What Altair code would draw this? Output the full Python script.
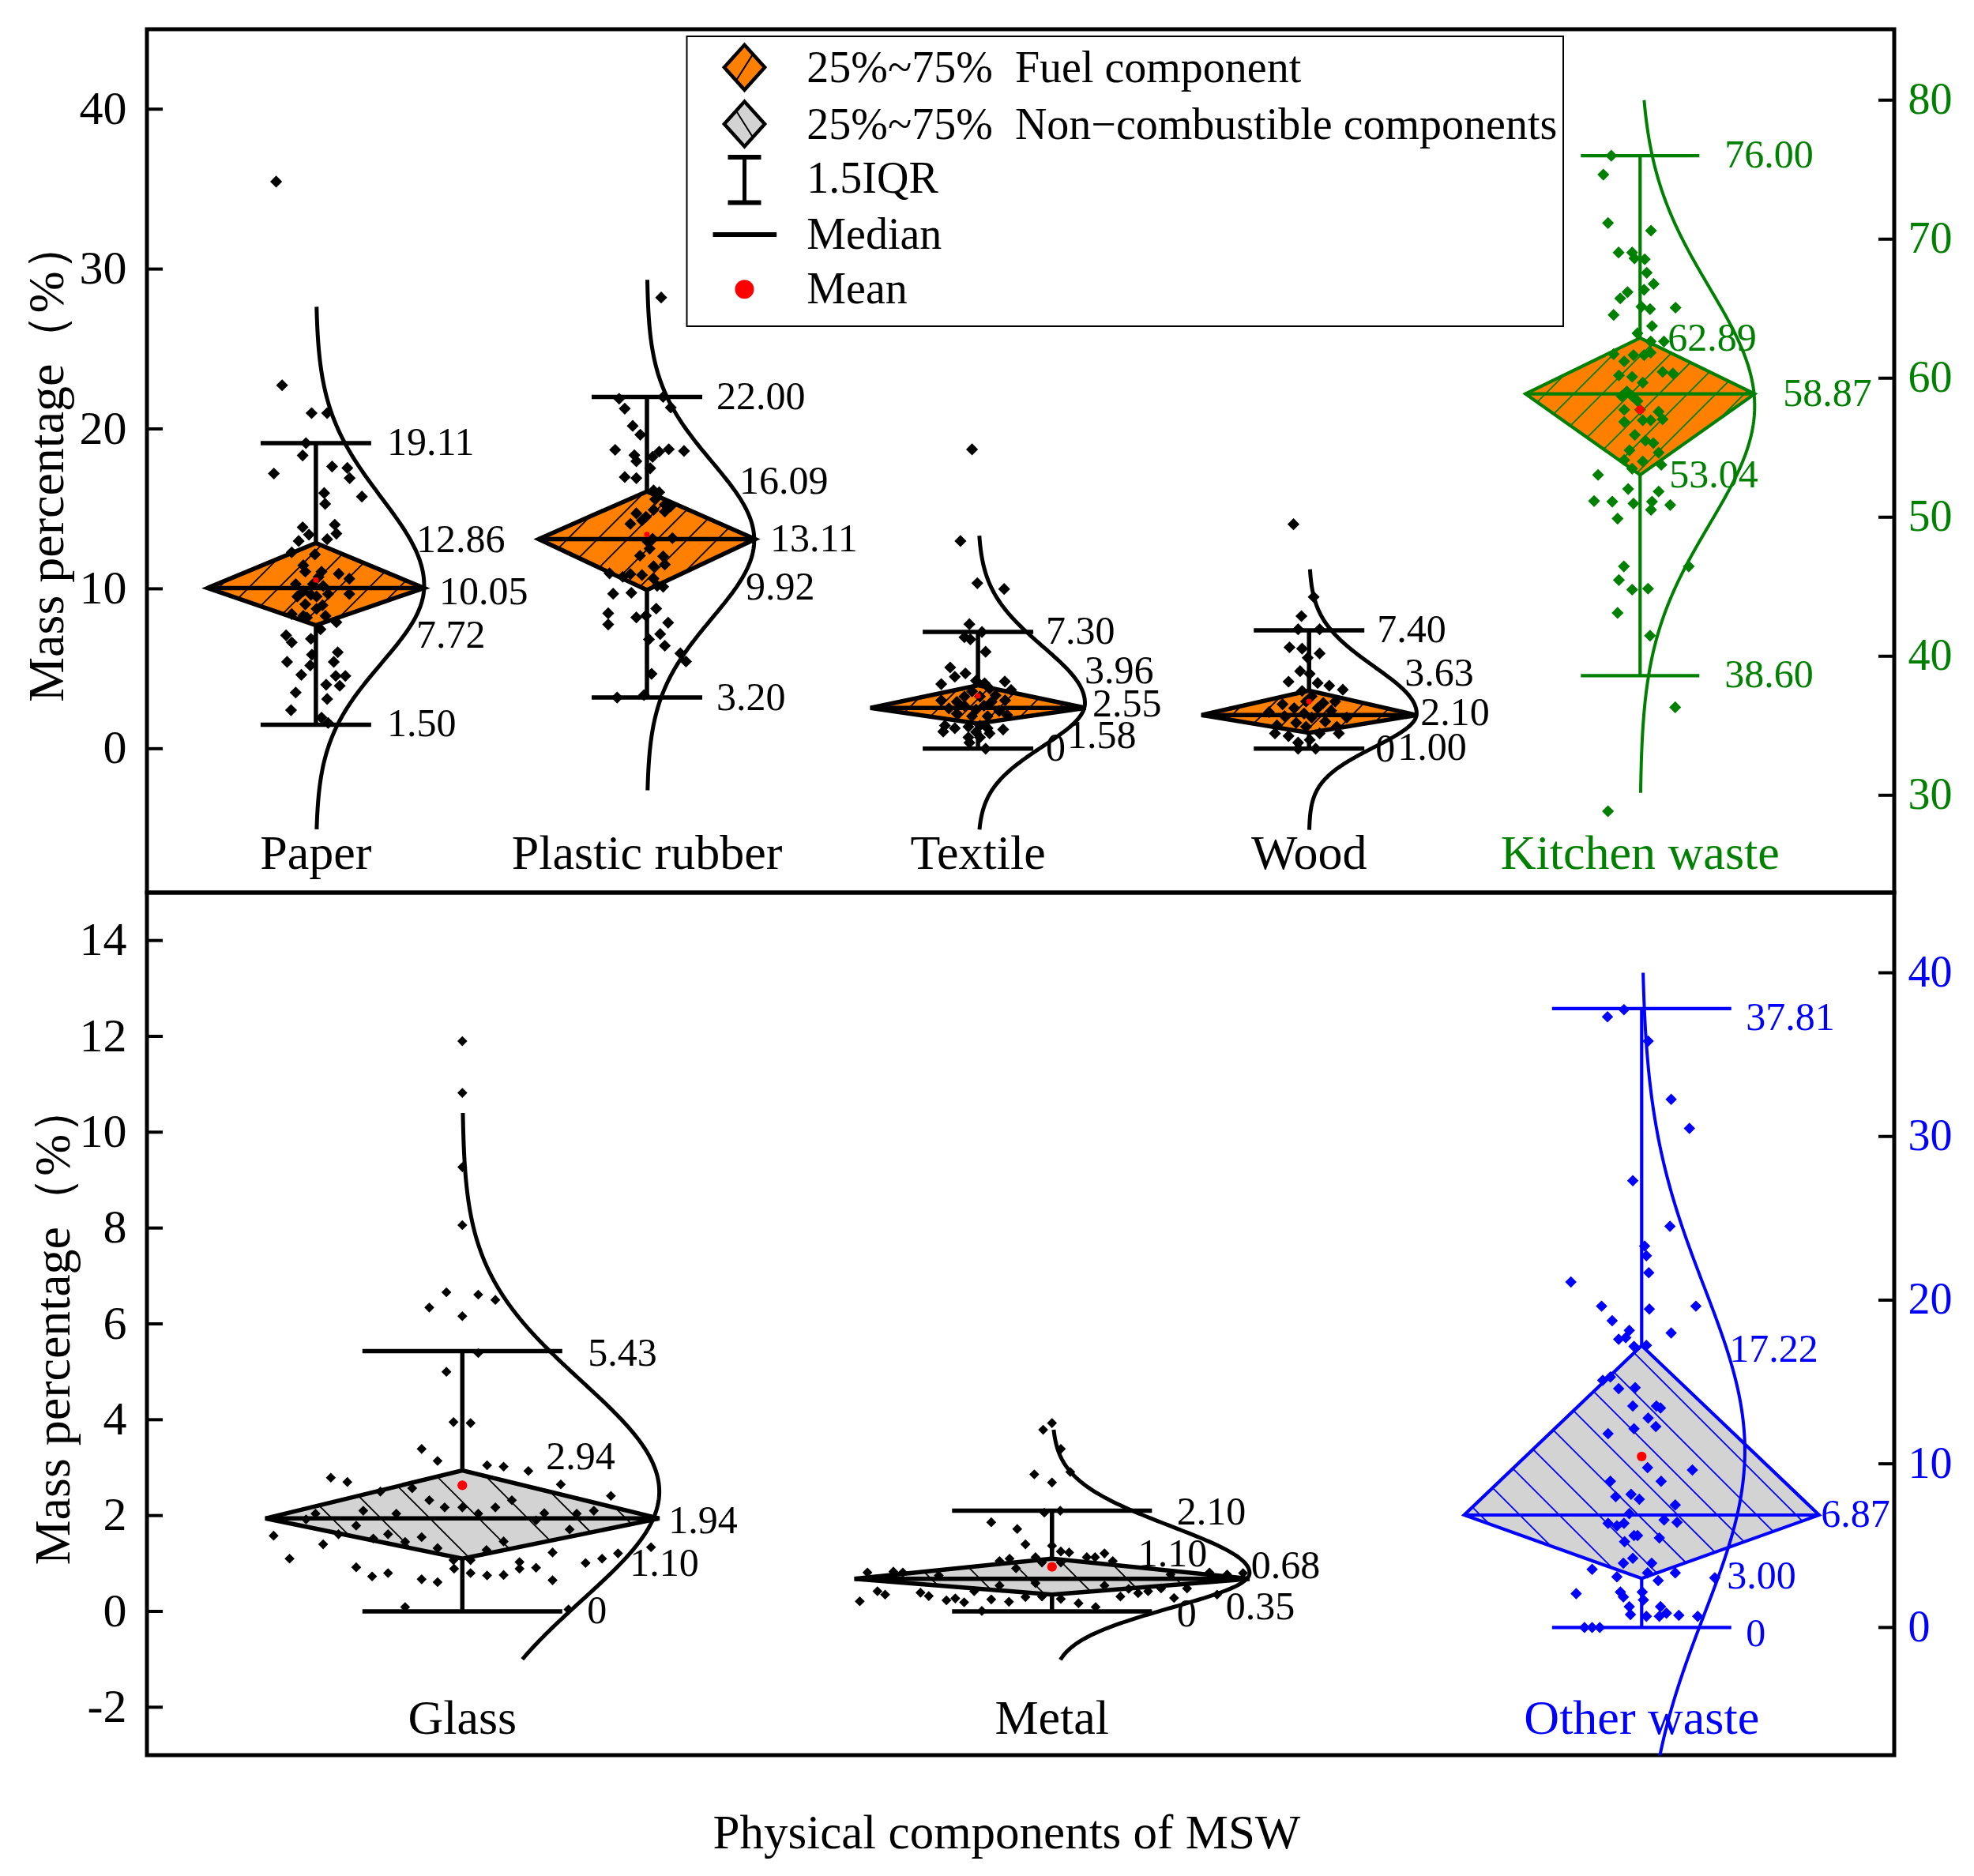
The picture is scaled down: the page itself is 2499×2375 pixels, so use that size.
import math
import numpy as np
import pandas as pd
import altair as alt

FONT = "Liberation Serif"
ORANGE = "#FF8000"
GREY = "#D3D3D3"
GREEN = "#008000"
BLUE = "#0000FF"
RED = "#FF0000"

# ---------------------------------------------------------------- data
top_cats = ["Paper", "Plastic rubber", "Textile", "Wood", "Kitchen waste"]
top_low = [1.50, 3.20, 0.00, 0.00, 38.60]
top_q1 = [7.72, 9.92, 1.58, 1.00, 53.04]
top_med = [10.05, 13.11, 2.55, 2.10, 58.87]
top_q3 = [12.86, 16.09, 3.96, 3.63, 62.89]
top_high = [19.11, 22.00, 7.30, 7.40, 76.00]
top_mean = [10.55, 13.39, 3.30, 2.95, 57.73]

bot_cats = ["Glass", "Metal", "Other waste"]
bot_low = [0.00, 0.00, 0.00]
bot_q1 = [1.10, 0.35, 3.00]
bot_med = [1.94, 0.68, 6.87]
bot_q3 = [2.94, 1.10, 17.22]
bot_high = [5.43, 2.10, 37.81]
bot_mean = [2.63, 0.93, 10.45]

# axis tick values
top_left_ticks = [0, 10, 20, 30, 40]
top_right_ticks = [30, 40, 50, 60, 70, 80]
bot_left_ticks = [-2, 0, 2, 4, 6, 8, 10, 12, 14]
bot_right_ticks = [0, 10, 20, 30, 40]

# normal-curve overlays: peak, sd below, sd above, lower end, upper end
top_curve_peak = [10.2, 13.06, 2.85, 2.2, 58.0]
top_curve_sdlo = [4.85, 4.9, 2.7, 2.1, 8.5]
top_curve_sdhi = [5.49, 4.88, 3.54, 2.93, 8.5]
top_curve_lo = [-5.04, -2.6, -5.06, -5.08, 30.17]
top_curve_hi = [27.64, 29.33, 13.32, 11.22, 80.0]
bot_curve_peak = [2.5, 0.8, 10.8]
bot_curve_sdlo = [2.27, 0.72, 10.0]
bot_curve_sdhi = [2.3, 0.97, 10.0]
bot_curve_lo = [-1.0, -1.01, -7.8]
bot_curve_hi = [10.4, 3.79, 40.0]

# individual samples (value) and their horizontal jitter
paper_v = [22.73, 20.99, 20.99, 19.11, 18.34, 17.21, 17.65, 17.56, 16.92, 15.77, 15.99, 15.31, 14.01,
           13.45, 13.85, 13.39, 12.99, 13.10, 12.28, 12.15, 11.47, 11.07, 10.94, 10.63, 11.07, 10.74,
           10.29, 10.29, 10.18, 9.85, 9.63, 9.52, 9.68, 9.68, 9.52, 9.03, 8.97, 8.75, 8.42, 8.31, 8.20,
           8.31, 7.91, 7.47, 7.09, 6.65, 6.87, 5.88, 5.43, 5.43, 6.03, 5.21, 4.62, 4.55, 4.55, 4.00,
           3.93, 3.51, 3.11, 2.41, 1.94, 1.61, 35.47]
paper_j = [-0.102, -0.013, 0.034, -0.030, -0.040, -0.127, 0.049, 0.095, 0.102, 0.139, 0.025, 0.028, 0.057,
           0.062, -0.040, -0.021, -0.052, 0.034, -0.073, -0.003, -0.038, 0.017, 0.069, 0.101, -0.032, 0.008,
           -0.009, -0.061, 0.022, -0.038, -0.015, 0.002, 0.101, 0.037, -0.056, -0.032, 0.020, 0.002, -0.073,
           -0.038, -0.027, 0.029, 0.062, 0.014, -0.090, -0.073, -0.015, -0.012, -0.087, 0.054, 0.066, -0.017,
           -0.044, 0.060, 0.089, 0.031, 0.072, -0.061, 0.034, -0.075, 0.017, 0.037, -0.120]
plastic_v = [28.22, 21.89, 22.00, 21.27, 21.34, 20.19, 19.64, 18.69, 18.36, 17.98, 18.25, 18.58, 18.73,
             18.62, 17.54, 16.99, 16.92, 16.15, 16.04, 15.60, 15.27, 15.16, 14.72, 14.50, 14.06, 14.28,
             14.94, 14.83, 13.17, 12.95, 13.13, 12.51, 12.07, 12.03, 11.41, 11.52, 10.92, 10.86, 10.97,
             10.75, 10.64, 10.19, 10.13, 9.69, 9.75, 8.47, 7.77, 8.32, 8.21, 8.76, 7.88, 7.17, 6.84, 6.44,
             5.96, 5.45, 4.68, 3.20, 3.35]
plastic_j = [0.043, -0.084, 0.049, -0.067, 0.072, -0.043, -0.020, -0.096, -0.038, -0.032, 0.017, 0.037,
             0.066, 0.112, 0.010, -0.067, -0.032, 0.020, 0.037, 0.025, 0.054, 0.072, -0.032, -0.003, -0.050,
             -0.015, 0.020, 0.054, 0.077, 0.002, 0.017, 0.008, -0.021, 0.049, 0.020, 0.054, -0.050, -0.015,
             -0.113, -0.073, 0.020, 0.031, 0.049, -0.102, -0.047, -0.117, -0.117, -0.003, -0.032, 0.028,
             0.064, 0.040, 0.006, 0.054, 0.101, 0.118, 0.014, -0.090, -0.009]
textile_v = [18.72, 12.99, 10.35, 9.99, 7.79, 7.30, 6.97, 6.84, 6.06, 5.08, 4.50, 4.71, 4.04, 4.25, 4.09,
             4.20, 3.76, 3.59, 3.67, 3.26, 3.26, 3.34, 3.02, 2.93, 2.93, 3.02, 2.69, 2.69, 2.52, 2.44, 2.36,
             2.19, 2.03, 2.03, 2.11, 1.45, 1.28, 1.07, 1.37, 1.45, 1.28, 1.20, 1.04, 0.96, 0.71, 0.71, 0.38,
             0.00]
textile_j = [-0.018, -0.053, -0.002, 0.079, -0.026, 0.012, -0.041, -0.023, 0.023, -0.084, -0.070, -0.038,
             -0.111, -0.006, 0.020, 0.081, 0.035, -0.018, 0.100, -0.041, 0.006, 0.053, -0.111, -0.064, 0.041,
             0.082, -0.041, 0.018, -0.088, -0.006, 0.064, -0.064, -0.018, 0.029, 0.088, -0.100, -0.070,
             -0.105, -0.029, 0.006, 0.029, 0.076, -0.006, 0.035, -0.029, 0.006, -0.026, 0.023]
wood_v = [14.04, 9.49, 8.29, 7.47, 7.47, 6.34, 6.26, 5.96, 5.68, 4.85, 4.68, 4.19, 4.11, 3.94, 3.69, 3.61,
          3.28, 2.95, 2.78, 2.86, 2.95, 2.53, 2.53, 2.37, 2.20, 2.28, 2.04, 1.95, 1.95, 1.62, 1.70, 1.46,
          1.37, 1.37, 0.96, 0.79, 0.96, 0.96, 0.55, 0.38, 0.00, 0.00]
wood_j = [-0.047, 0.014, -0.023, -0.033, 0.032, -0.059, -0.021, 0.032, -0.004, -0.027, 0.002, -0.062, 0.026,
          0.061, 0.102, -0.021, 0.008, -0.009, -0.080, 0.043, 0.079, -0.045, 0.026, 0.067, -0.015, -0.121,
          -0.074, 0.114, 0.008, -0.039, 0.049, -0.097, -0.009, 0.084, -0.103, -0.062, 0.032, 0.090, 0.002,
          -0.033, -0.033, 0.020]
kitchen_v = [76.00, 74.64, 71.16, 70.61, 69.04, 69.04, 68.62, 68.55, 67.58, 66.36, 66.19, 66.78, 65.74,
             64.55, 64.97, 65.07, 65.14, 63.75, 63.23, 62.64, 62.64, 61.73, 61.66, 61.21, 61.66, 61.84,
             60.20, 60.10, 59.68, 60.45, 60.34, 59.05, 58.71, 58.71, 58.36, 57.73, 57.73, 57.59, 57.04,
             56.86, 56.97, 56.97, 55.92, 55.51, 55.33, 54.81, 54.64, 54.11, 54.01, 53.49, 53.77, 53.04,
             52.03, 51.85, 51.16, 51.12, 50.98, 51.12, 50.88, 50.53, 49.90, 46.46, 45.48, 44.79, 44.86,
             43.12, 41.48, 46.46, 36.33, 28.85]
kitchen_j = [-0.087, -0.111, -0.097, 0.033, -0.065, -0.024, -0.017, 0.014, 0.020, 0.012, -0.038, 0.041,
             -0.060, -0.080, 0.030, 0.107, 0.004, 0.036, -0.008, 0.032, 0.072, -0.080, -0.020, -0.048, 0.012,
             0.032, -0.064, -0.024, 0.008, 0.068, 0.099, -0.040, -0.024, -0.056, -0.008, -0.048, 0.000, 0.056,
             0.068, -0.048, 0.008, 0.032, -0.016, 0.016, 0.040, -0.032, 0.056, -0.048, 0.008, -0.024, 0.064,
             -0.127, -0.036, 0.056, -0.139, -0.084, -0.020, 0.036, 0.091, 0.033, -0.068, -0.049, -0.064,
             -0.024, 0.024, -0.068, 0.030, 0.147, 0.106, -0.097]
glass_v = [11.90, 10.82, 9.27, 8.06, 6.66, 6.61, 6.50, 6.34, 6.16, 5.39, 5.00, 3.95, 3.93, 3.39, 3.14, 3.05,
           3.02, 2.93, 2.79, 2.70, 2.65, 2.57, 2.50, 2.41, 2.32, 2.32, 2.17, 2.17, 2.17, 2.10, 2.10, 2.04,
           2.04, 2.04, 2.05, 2.04, 1.90, 1.92, 1.79, 1.71, 1.58, 1.61, 1.61, 1.55, 1.46, 1.40, 1.52, 1.45,
           1.32, 1.28, 1.23, 1.34, 1.21, 1.10, 1.07, 1.07, 1.03, 1.01, 1.10, 0.92, 0.73, 0.80, 0.67, 0.61,
           0.89, 0.80, 0.75, 0.76, 0.89, 0.91, 0.65, 0.09, 0.04]
glass_j = [0.000, 0.000, 0.000, 0.000, -0.027, 0.027, 0.056, -0.056, 0.000, 0.027, -0.027, -0.015, 0.014,
           -0.069, -0.042, 0.042, 0.070, 0.112, -0.223, -0.195, 0.167, -0.085, -0.139, 0.252, -0.056, 0.084,
           -0.030, 0.000, 0.056, -0.168, 0.223, -0.249, -0.112, 0.027, 0.139, 0.194, 0.125, -0.265, -0.180,
           0.182, -0.320, -0.210, -0.126, -0.069, 0.070, -0.236, -0.151, -0.097, -0.042, 0.041, 0.153, 0.320,
           0.264, -0.293, -0.015, 0.014, 0.097, 0.209, 0.237, -0.180, -0.153, -0.126, -0.069, -0.042, -0.014,
           0.014, 0.042, 0.070, 0.097, 0.125, 0.153, -0.097, 0.180]
metal_v = [3.93, 3.79, 3.39, 2.91, 2.86, 2.69, 2.06, 2.10, 1.86, 1.72, 1.40, 1.37, 1.25, 1.23, 1.21, 1.13,
           1.10, 1.05, 1.13, 1.13, 1.05, 1.02, 1.02, 0.81, 0.83, 0.81, 0.75, 0.90, 0.81, 0.77, 0.80, 0.77,
           0.54, 0.59, 0.54, 0.47, 0.48, 0.48, 0.42, 0.35, 0.39, 0.32, 0.42, 0.21, 0.23, 0.27, 0.19, 0.25,
           0.20, 0.30, 0.31, 0.26, 0.17, 0.31, 0.38, 0.42, 0.28, 0.09, 0.35, 0.01]
metal_j = [0.000, -0.015, 0.015, 0.031, -0.030, 0.000, -0.013, 0.014, -0.103, -0.059, -0.045, 0.000, 0.015,
           0.029, 0.089, -0.028, -0.072, -0.089, 0.059, 0.073, 0.103, -0.017, 0.015, -0.313, -0.269, -0.253,
           -0.192, -0.061, 0.267, 0.297, 0.324, 0.201, -0.089, -0.028, 0.089, 0.130, 0.185, 0.229, -0.296,
           -0.283, -0.223, -0.209, -0.132, -0.326, -0.179, -0.164, -0.149, -0.103, -0.073, -0.045, -0.017,
           0.015, 0.045, 0.116, 0.146, 0.163, 0.207, 0.074, 0.280, -0.119]
other_v = [37.31, 37.75, 35.83, 32.27, 30.50, 27.30, 24.51, 23.30, 22.71, 21.67, 21.11, 19.63, 19.45, 19.63,
           18.74, 18.00, 18.15, 17.61, 17.70, 17.17, 17.23, 15.10, 15.30, 14.59, 14.65, 13.53, 13.53, 13.41,
           12.79, 12.28, 11.84, 12.14, 9.62, 9.77, 8.94, 8.94, 8.14, 7.84, 7.99, 7.49, 6.95, 6.36, 6.21,
           6.36, 6.57, 6.42, 5.62, 5.62, 5.47, 5.24, 4.23, 3.93, 3.93, 3.55, 3.34, 3.10, 3.34, 2.87, 2.07,
           2.16, 2.16, 1.86, 1.68, 1.27, 1.27, 0.79, 0.68, 0.88, 0.74, 0.68, 0.68, 0.00, 0.00, 0.00, 3.04]
other_j = [-0.058, -0.030, 0.011, 0.050, 0.081, -0.015, 0.048, 0.005, 0.008, 0.012, -0.120, 0.092, 0.013,
           -0.068, -0.050, 0.050, -0.021, -0.039, -0.027, -0.013, 0.008, -0.066, -0.053, -0.039, -0.011,
           -0.015, 0.025, 0.032, 0.011, 0.024, -0.057, -0.013, 0.086, 0.010, -0.053, 0.033, -0.018, -0.004,
           -0.044, 0.057, -0.021, -0.057, -0.042, -0.030, 0.038, 0.060, -0.013, -0.007, 0.030, -0.029,
           -0.015, -0.031, 0.017, -0.084, 0.057, -0.042, 0.010, 0.028, -0.111, -0.036, 0.001, -0.031, 0.003,
           -0.021, 0.032, -0.019, 0.008, 0.042, 0.063, 0.030, 0.095, -0.097, -0.084, -0.071, 0.124]

top_points = [(paper_v, paper_j), (plastic_v, plastic_j), (textile_v, textile_j),
              (wood_v, wood_j), (kitchen_v, kitchen_j)]
bot_points = [(glass_v, glass_j), (metal_v, metal_j), (other_v, other_j)]

# ---------------------------------------------------------------- layout / style
PW = 2212
TOP_H = 1093
BOT_H = 1092
TOP_XD = [0.4896, 5.7676]
BOT_XD = [0.4651, 3.4283]
TOP_YL = [-9, 45]
TOP_YR = [23, 85.1]
BOT_YL = [-3, 15]
BOT_YR = [-7.8, 44.9]

TOP_DW = [0.327, 0.327, 0.325, 0.325, 0.346]   # diamond half widths
BOT_DW = [0.334, 0.335, 0.301]
TOP_CW = [0.327, 0.324, 0.323, 0.325, 0.346]   # curve peak widths
BOT_CW = [0.334, 0.335, 0.175]
TOP_CAP = [0.167, 0.167, 0.167, 0.167, 0.179]
BOT_CAP = [0.1695, 0.1695, 0.152]
TICK_LEN = 20

# label pixel offsets for (high, q3, median, q1, low)
LAB_OFF = {
    "Paper": [(90, 0), (127, -4), (156, 6), (127, 13), (90, 0)],
    "Plastic rubber": [(88, 0), (117, -12), (156, 1), (125, -3), (88, 1)],
    "Textile": [(86, 0), (135, -18), (145, -4), (113, 16), (86, 0)],
    "Wood": [(86, 0), (121, -21), (141, -2), (112, 19), (84, 1)],
    "Kitchen waste": [(107, 0), (35, 1), (181, 0), (37, 1), (107, 0)],
    "Glass": [(159, 3), (106, -17), (261, 4), (212, 7), (158, 0)],
    "Metal": [(158, 2), (109, -5), (252, -16), (220, 16), (158, 4)],
    "Other waste": [(132, 12), (111, 5), (227, 0), (108, -2), (132, 9)],
}


def fmt(v):
    return "0" if v == 0 else f"{v:.2f}"


def frames(ids, cats, low, q1, med, q3, high, mean, pts, cpk, csl, csh, clo, chi,
           dw, cw, capw, xd, yd, H, spacing, slash):
    kx = PW / (xd[1] - xd[0])
    ky = H / (yd[1] - yd[0])
    X = lambda u: (u - xd[0]) * kx
    Y = lambda v: (yd[1] - v) * ky
    U = lambda px: xd[0] + px / kx
    V = lambda py: yd[1] - py / ky
    st, caps, diam, outl, hatch, curve, pp, labs = [], [], [], [], [], [], [], []
    for i in ids:
        c = cats[i]
        xc = i + 1
        w = dw[i]
        st.append(dict(cat=c, xc=xc, low=low[i], high=high[i], med=med[i], mean=mean[i],
                       xl=xc - w, xr=xc + w))
        for yv in (low[i], high[i]):
            caps.append(dict(cat=c, x0=xc - capw[i], x1=xc + capw[i], y=yv))
        diam += [dict(cat=c, x=xc - w, ytop=med[i], ybot=med[i]),
                 dict(cat=c, x=xc, ytop=q3[i], ybot=q1[i]),
                 dict(cat=c, x=xc + w, ytop=med[i], ybot=med[i])]
        verts = [(xc - w, med[i]), (xc, q3[i]), (xc + w, med[i]), (xc, q1[i])]
        for k, (a, b) in enumerate(verts + [verts[0], verts[1]]):
            outl.append(dict(cat=c, x=a, y=b, k=k))
        # hatch lines in screen space
        P = [(X(a), Y(b)) for a, b in verts]
        s = (lambda p: p[0] + p[1]) if slash else (lambda p: p[0] - p[1])
        sv = [s(p) for p in P]
        cc = math.ceil(min(sv) / spacing) * spacing
        while cc < max(sv):
            hits = []
            for e in range(4):
                p1, p2 = P[e], P[(e + 1) % 4]
                s1, s2 = sv[e], sv[(e + 1) % 4]
                if (s1 - cc) * (s2 - cc) < 0:
                    t = (cc - s1) / (s2 - s1)
                    hits.append((p1[0] + t * (p2[0] - p1[0]), p1[1] + t * (p2[1] - p1[1])))
            if len(hits) == 2:
                hatch.append(dict(cat=c, x0=U(hits[0][0]), x1=U(hits[1][0]),
                                  y0=V(hits[0][1]), y1=V(hits[1][1])))
            cc += spacing
        # normal curve
        ys = np.linspace(clo[i], chi[i], 240)
        for k, yv in enumerate(ys):
            sd = csl[i] if yv < cpk[i] else csh[i]
            f = math.exp(-((yv - cpk[i]) ** 2) / (2 * sd * sd))
            curve.append(dict(cat=c, x=xc + cw[i] * f, y=float(yv), k=k))
        vals, jit = pts[i]
        for v, j in zip(vals, jit):
            pp.append(dict(cat=c, x=xc + j, v=v))
        for (v, (dx, dy)) in zip([high[i], q3[i], med[i], q1[i], low[i]], LAB_OFF[c]):
            labs.append(dict(cat=c, x=xc + dx / kx, y=v - dy / ky, t=fmt(v)))
    return {k: pd.DataFrame(v) for k, v in dict(stats=st, caps=caps, diam=diam, outline=outl,
                                                   hatch=hatch, curve=curve, pts=pp,
                                                   labels=labs).items()}


def layers(fr, ticks, tick_side, xs, xax, ys, yax, color, fill, lw, clw, psize, msize, H, name_dy):
    X = lambda f: alt.X(f, type="quantitative", scale=xs, axis=xax)
    Y = lambda f: alt.Y(f, type="quantitative", scale=ys, axis=yax)
    st = alt.Chart(fr["stats"])
    if tick_side == "left":
        tx0, tx1 = 0, TICK_LEN
    else:
        tx0, tx1 = PW - TICK_LEN, PW
    return alt.layer(
        alt.Chart(pd.DataFrame({"v": ticks})).mark_rule(color="black", strokeWidth=4).encode(
            x=alt.value(tx0), x2=alt.value(tx1), y=Y("v")),
        st.mark_rule(color=color, strokeWidth=lw).encode(x=X("xc"), y=Y("low"), y2=alt.Y2("high")),
        alt.Chart(fr["caps"]).mark_rule(color=color, strokeWidth=lw).encode(
            x=X("x0"), x2=alt.X2("x1"), y=Y("y")),
        alt.Chart(fr["diam"]).mark_area(fill=fill, opacity=1).encode(
            x=X("x"), y=Y("ytop"), y2=alt.Y2("ybot"), detail="cat:N"),
        alt.Chart(fr["hatch"]).mark_rule(color=color, strokeWidth=1.8).encode(
            x=X("x0"), x2=alt.X2("x1"), y=Y("y0"), y2=alt.Y2("y1")),
        alt.Chart(fr["outline"]).mark_line(color=color, strokeWidth=lw, strokeJoin="miter").encode(
            x=X("x"), y=Y("y"), detail="cat:N", order="k:Q"),
        st.mark_rule(color=color, strokeWidth=lw).encode(x=X("xl"), x2=alt.X2("xr"), y=Y("med")),
        alt.Chart(fr["curve"]).mark_line(color=color, strokeWidth=clw).encode(
            x=X("x"), y=Y("y"), detail="cat:N", order="k:Q"),
        alt.Chart(fr["pts"]).mark_point(shape="diamond", filled=True, color=color, size=psize,
                                        opacity=1).encode(x=X("x"), y=Y("v")),
        st.mark_point(shape="circle", filled=True, color=RED, size=msize, opacity=1).encode(
            x=X("xc"), y=Y("mean")),
        alt.Chart(fr["labels"]).mark_text(font=FONT, fontSize=50, color=color, align="left",
                                          baseline="middle").encode(x=X("x"), y=Y("y"), text="t:N"),
        st.mark_text(font=FONT, fontSize=62, color=color, align="center",
                     baseline="alphabetic").encode(x=X("xc"), y=alt.value(H - name_dy), text="cat:N"),
    )


def yaxis(values, title, orient, color, pad, tpad=10, lsize=60):
    return alt.Axis(values=values, title=title, orient=orient, domain=False, grid=False,
                    ticks=False, labelPadding=pad, labelFont=FONT, labelFontSize=lsize, labelColor=color,
                    labelExpr="datum.value + ''",
                    titleFont=FONT, titleFontSize=64, titleFontWeight="normal", titleColor="black",
                    titlePadding=tpad)


YTITLE = "Mass percentage（%）"
XS_TOP = alt.Scale(domain=TOP_XD, nice=False, zero=False)
XS_BOT = alt.Scale(domain=BOT_XD, nice=False, zero=False)
AX_BOT = alt.Axis(title="Physical components of MSW", labels=False, ticks=False, domain=False,
                  grid=False, titleFont=FONT, titleFontSize=61, titleFontWeight="normal",
                  titleColor="black", titlePadding=69, titleX=1088)

# ---------------- top panel
fr_tl = frames([0, 1, 2, 3], top_cats, top_low, top_q1, top_med, top_q3, top_high, top_mean, top_points,
               top_curve_peak, top_curve_sdlo, top_curve_sdhi, top_curve_lo, top_curve_hi,
               TOP_DW, TOP_CW, TOP_CAP, TOP_XD, TOP_YL, TOP_H, 38, True)
fr_tr = frames([4], top_cats, top_low, top_q1, top_med, top_q3, top_high, top_mean, top_points,
               top_curve_peak, top_curve_sdlo, top_curve_sdhi, top_curve_lo, top_curve_hi,
               TOP_DW, TOP_CW, TOP_CAP, TOP_XD, TOP_YR, TOP_H, 36, True)
top_left = layers(fr_tl, top_left_ticks, "left", XS_TOP, None,
                  alt.Scale(domain=TOP_YL, nice=False, zero=False),
                  yaxis(top_left_ticks, YTITLE, "left", "black", 26, 8),
                  "black", ORANGE, 5.5, 5, 230, 50, TOP_H, 30)
top_right = layers(fr_tr, top_right_ticks, "right", XS_TOP, None,
                   alt.Scale(domain=TOP_YR, nice=False, zero=False),
                   yaxis(top_right_ticks, None, "right", GREEN, 17, lsize=56),
                   GREEN, ORANGE, 4.2, 4, 230, 120, TOP_H, 30)

one = pd.DataFrame({"a": [0]})
LX, LT = 756.5, 835.3
FUEL_SHAPE = "M-0.9,0L0,-1L0.9,0L0,1Z"
legend = [
    alt.Chart(one).mark_rect(fill="white", stroke="black", strokeWidth=2).encode(
        x=alt.value(683.5), x2=alt.value(1793), y=alt.value(9), y2=alt.value(376)),
    alt.Chart(one).mark_point(shape=FUEL_SHAPE, size=3249, filled=True, fill=ORANGE, stroke="black",
                              strokeWidth=4.5, opacity=1).encode(x=alt.value(LX), y=alt.value(48.3)),
    alt.Chart(one).mark_point(shape="M-0.35,0.55L0.35,-0.55", size=3249, filled=False, stroke="black",
                              strokeWidth=2, opacity=1).encode(x=alt.value(LX), y=alt.value(48.3)),
    alt.Chart(one).mark_point(shape=FUEL_SHAPE, size=3249, filled=True, fill=GREY, stroke="black",
                              strokeWidth=4.5, opacity=1).encode(x=alt.value(LX), y=alt.value(120)),
    alt.Chart(one).mark_point(shape="M-0.35,-0.55L0.35,0.55", size=3249, filled=False, stroke="black",
                              strokeWidth=2, opacity=1).encode(x=alt.value(LX), y=alt.value(120)),
    alt.Chart(one).mark_rule(color="black", strokeWidth=5).encode(
        x=alt.value(LX), y=alt.value(160), y2=alt.value(221.6)),
    alt.Chart(one).mark_rule(color="black", strokeWidth=6).encode(
        x=alt.value(LX - 21), x2=alt.value(LX + 21), y=alt.value(162)),
    alt.Chart(one).mark_rule(color="black", strokeWidth=6).encode(
        x=alt.value(LX - 21), x2=alt.value(LX + 21), y=alt.value(219.6)),
    alt.Chart(one).mark_rule(color="black", strokeWidth=6).encode(
        x=alt.value(716.5), x2=alt.value(797.2), y=alt.value(260)),
    alt.Chart(one).mark_point(shape="circle", size=573, filled=True, color=RED, opacity=1).encode(
        x=alt.value(LX), y=alt.value(329.3)),
]
for txt, yb in [("25%~75%\u00a0 Fuel component", 67.3),
                ("25%~75%\u00a0 Non\u2212combustible components", 139),
                ("1.5IQR", 206.6), ("Median", 277.6), ("Mean", 346.6)]:
    legend.append(alt.Chart(one).mark_text(text=txt, font=FONT, fontSize=56, color="black", align="left",
                                           baseline="alphabetic").encode(x=alt.value(LT), y=alt.value(yb)))

top = alt.layer(top_left, top_right, *legend).resolve_scale(y="independent").properties(
    width=PW, height=TOP_H)

# ---------------- bottom panel
fr_bl = frames([0, 1], bot_cats, bot_low, bot_q1, bot_med, bot_q3, bot_high, bot_mean, bot_points,
               bot_curve_peak, bot_curve_sdlo, bot_curve_sdhi, bot_curve_lo, bot_curve_hi,
               BOT_DW, BOT_CW, BOT_CAP, BOT_XD, BOT_YL, BOT_H, 62, False)
fr_br = frames([2], bot_cats, bot_low, bot_q1, bot_med, bot_q3, bot_high, bot_mean, bot_points,
               bot_curve_peak, bot_curve_sdlo, bot_curve_sdhi, bot_curve_lo, bot_curve_hi,
               BOT_DW, BOT_CW, BOT_CAP, BOT_XD, BOT_YR, BOT_H, 50, False)
bot_left = layers(fr_bl, bot_left_ticks, "left", XS_BOT, AX_BOT,
                  alt.Scale(domain=BOT_YL, nice=False, zero=False),
                  yaxis(bot_left_ticks, YTITLE, "left", "black", 26, 0),
                  "black", GREY, 5.5, 5, 160, 150, BOT_H, 27)
bot_right = layers(fr_br, bot_right_ticks, "right", XS_BOT, AX_BOT,
                   alt.Scale(domain=BOT_YR, nice=False, zero=False),
                   yaxis(bot_right_ticks, None, "right", BLUE, 17, lsize=56),
                   BLUE, GREY, 4.2, 4, 210, 150, BOT_H, 27)
bot = alt.layer(bot_left, bot_right).resolve_scale(y="independent").properties(width=PW, height=BOT_H)

chart = alt.vconcat(top, bot, spacing=0, bounds="flush").properties(
    padding={"left": 17, "top": 26, "right": 10, "bottom": 10}, background="white"
).configure_view(stroke="black", strokeWidth=5)

chart.save("out.html", embed_options={"renderer": "svg", "actions": False})
